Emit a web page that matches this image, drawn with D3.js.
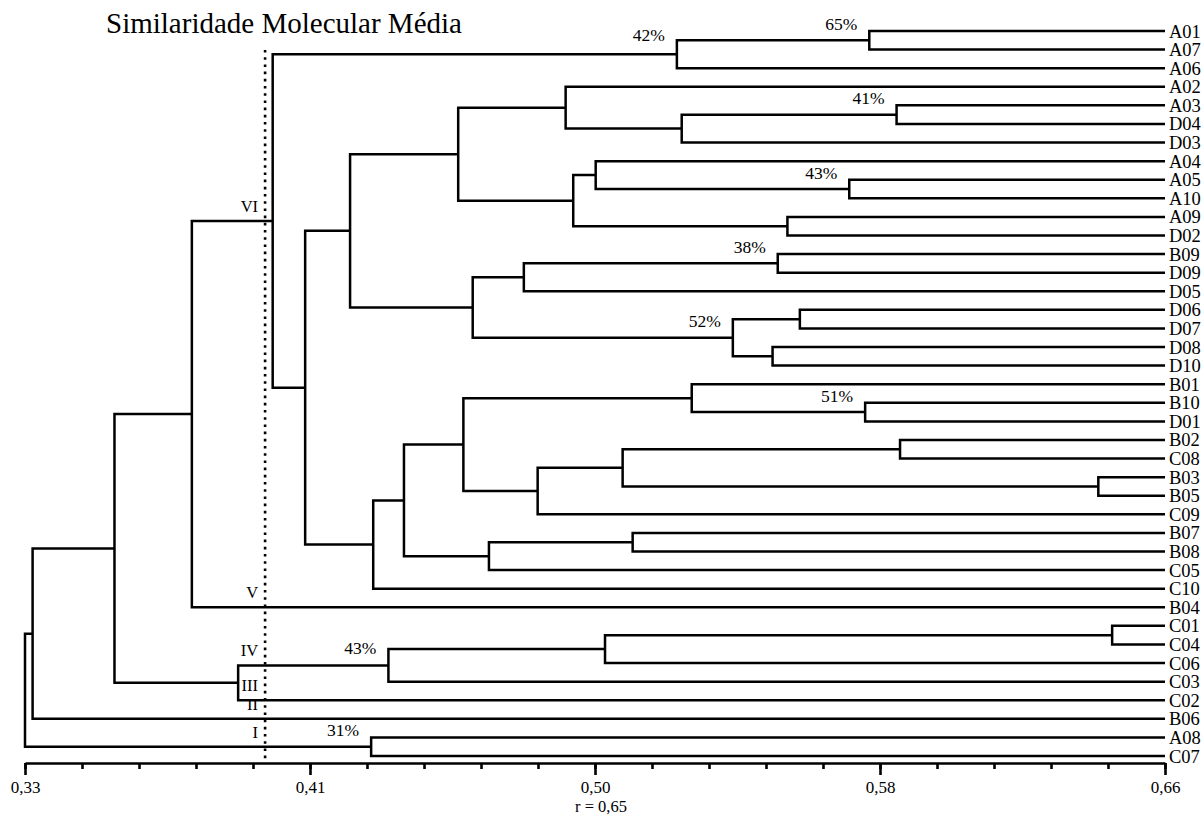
<!DOCTYPE html>
<html>
<head>
<meta charset="utf-8">
<script src="https://cdn.jsdelivr.net/npm/d3@7/dist/d3.min.js"></script>
<style>
  html, body { margin: 0; padding: 0; background: #fff; }
  svg { display: block; font-family: "Liberation Serif", "DejaVu Serif", serif; }
  .link { fill: none; stroke: #000; stroke-width: 2.5; stroke-linejoin: miter; }
  .axis path, .axis line { stroke: #000; stroke-width: 2.6; }
  .axis text { font-family: "Liberation Serif", serif; font-size: 17px; fill: #000; }
</style>
</head>
<body>
<div id="chart"></div>
<script>
const WIDTH = 1204
const HEIGHT = 817

// leaves, top to bottom
const leafNames = ['A01', 'A07', 'A06', 'A02', 'A03', 'D04', 'D03', 'A04', 'A05', 'A10',
  'A09', 'D02', 'B09', 'D09', 'D05', 'D06', 'D07', 'D08', 'D10', 'B01',
  'B10', 'D01', 'B02', 'C08', 'B03', 'B05', 'C09', 'B07', 'B08', 'C05',
  'C10', 'B04', 'C01', 'C04', 'C06', 'C03', 'C02', 'B06', 'A08', 'C07']

// merges n0..n38 : two children and the similarity of the join
const mergeA = ['A01', 'n0', 'A03', 'n2', 'A02', 'A05', 'A04', 'A09', 'n6', 'n4',
  'B09', 'n10', 'D06', 'D08', 'n12', 'n11', 'n9', 'B10', 'B01', 'B02',
  'B03', 'n19', 'n21', 'n18', 'B07', 'n24', 'n23', 'n26', 'n16', 'n1',
  'n29', 'C01', 'n31', 'n32', 'n33', 'n30', 'n35', 'A08', 'n36']
const mergeB = ['A07', 'A06', 'D04', 'D03', 'n3', 'A10', 'n5', 'D02', 'n7', 'n8',
  'D09', 'D05', 'D07', 'D10', 'n13', 'n14', 'n15', 'D01', 'n17', 'C08',
  'B05', 'n20', 'C09', 'n22', 'B08', 'C05', 'n25', 'C10', 'n27', 'n28',
  'B04', 'C04', 'C06', 'C03', 'C02', 'n34', 'B06', 'C07', 'n37']
const mergeSim = [0.5744, 0.5187, 0.5823, 0.5201, 0.4865, 0.5686, 0.4952, 0.5507, 0.4887, 0.4554,
  0.5479, 0.4744, 0.5543, 0.5464, 0.5349, 0.4596, 0.4241, 0.5732, 0.5230, 0.5833,
  0.6407, 0.5030, 0.4784, 0.4569, 0.5059, 0.4643, 0.4397, 0.4308, 0.4111, 0.4017,
  0.3783, 0.6447, 0.4979, 0.4352, 0.3917, 0.3559, 0.3322, 0.4302, 0.3300]
// percentages shown at some joins
const mergePct = ['65%', '42%', '41%', '', '', '43%', '', '', '', '',
  '38%', '', '', '', '52%', '', '', '51%', '', '',
  '', '', '', '', '', '', '', '', '', '',
  '', '', '', '43%', '', '', '', '31%', '']

const leafSim = 0.66
const cutValue = 0.3995
const groupLabels = ['VI', 'V', 'IV', 'III', 'II', 'I']

const axisDomain = [0.33, 0.66]
const minorStep = 0.0165
const majorLabels = ['0,33', '0,41', '0,50', '0,58', '0,66']
const titleText = 'Similaridade Molecular Média'
const axisTitle = 'r = 0,65'

// small vertical nudges for a few percentage labels (layout only)
const pctNudge = { 1: 2, 14: 9, 33: 6 }

// build the tree
const byName = {}
leafNames.forEach(n => { byName[n] = { name: n, sim: leafSim } })
mergeSim.forEach((s, i) => {
  byName['n' + i] = {
    name: 'n' + i,
    sim: s,
    pct: mergePct[i],
    idx: i,
    children: [byName[mergeA[i]], byName[mergeB[i]]]
  }
})
const root = d3.hierarchy(byName['n' + (mergeSim.length - 1)])

const x = d3.scaleLinear().domain(axisDomain).range([25, 1165])
const y = d3.scalePoint().domain(leafNames).range([31, 756])

root.eachAfter(d => {
  d.py = d.children ? d3.mean(d.children, c => c.py) : y(d.data.name)
  d.px = x(d.data.sim)
})

const svg = d3.select('#chart').append('svg')
  .attr('width', WIDTH)
  .attr('height', HEIGHT)

svg.append('text')
  .attr('x', 106)
  .attr('y', 33)
  .attr('font-size', 29)
  .text(titleText)

// elbows
svg.append('g').selectAll('path')
  .data(root.descendants().filter(d => d.children))
  .enter().append('path')
  .attr('class', 'link')
  .attr('d', d => {
    const [a, b] = d.children
    return `M${a.px},${a.py}H${d.px}V${b.py}H${b.px}`
  })

// leaf labels
svg.append('g').selectAll('text')
  .data(root.leaves())
  .enter().append('text')
  .attr('x', d => d.px + 4)
  .attr('y', d => d.py + 6.5)
  .attr('font-size', 18.5)
  .text(d => d.data.name)

// percentage labels
svg.append('g').selectAll('text')
  .data(root.descendants().filter(d => d.data.pct))
  .enter().append('text')
  .attr('x', d => d.px - 12)
  .attr('y', d => d.children[0].py - 1 + (pctNudge[d.data.idx] || 0))
  .attr('text-anchor', 'end')
  .attr('font-size', 17.5)
  .text(d => d.data.pct)

// cut line
svg.append('line')
  .attr('x1', x(cutValue)).attr('x2', x(cutValue))
  .attr('y1', 50).attr('y2', 760)
  .attr('stroke', '#000')
  .attr('stroke-width', 2.6)
  .attr('stroke-dasharray', '2.6,4.6')

// group numerals on the branches crossing the cut
const crossing = root.descendants()
  .filter(d => d.parent && d.parent.data.sim < cutValue && d.data.sim > cutValue)
  .sort((a, b) => a.py - b.py)
svg.append('g').selectAll('text')
  .data(crossing)
  .enter().append('text')
  .attr('x', x(cutValue) - 7)
  .attr('y', d => d.py - 9)
  .attr('text-anchor', 'end')
  .attr('font-size', 16.5)
  .text((d, i) => groupLabels[i])

// axis
const tickVals = d3.range(0, 21).map(i => axisDomain[0] + i * minorStep)
const axisY = 763
svg.append('g')
  .attr('class', 'axis')
  .attr('transform', `translate(0,${axisY})`)
  .call(d3.axisBottom(x).tickValues(tickVals).tickSize(6).tickSizeOuter(0).tickFormat(''))
svg.append('g')
  .attr('class', 'axis')
  .attr('transform', `translate(0,${axisY})`)
  .call(d3.axisBottom(x).tickValues(tickVals.filter((d, i) => i % 5 === 0))
    .tickSize(12).tickSizeOuter(0).tickPadding(6)
    .tickFormat((d, i) => majorLabels[i]))
  .call(g => g.select('.domain').remove())

svg.append('text')
  .attr('x', x(0.495) + 6)
  .attr('y', 812)
  .attr('text-anchor', 'middle')
  .attr('font-size', 16.5)
  .text(axisTitle)
</script>
</body>
</html>
